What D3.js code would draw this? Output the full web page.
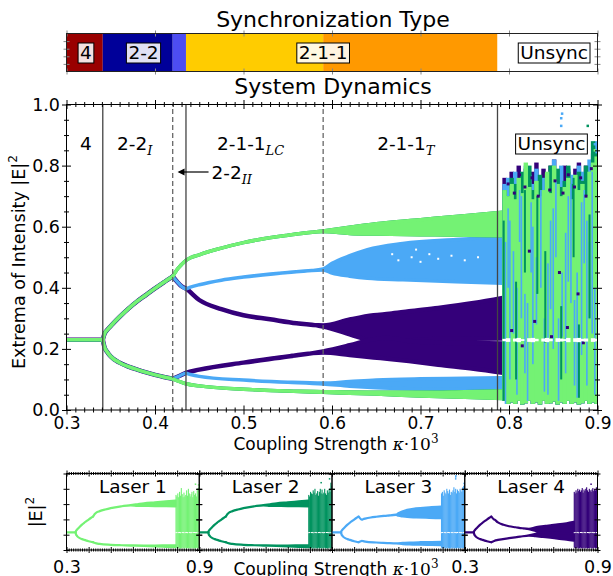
<!DOCTYPE html>
<html>
<head>
<meta charset="utf-8">
<script src="https://cdn.jsdelivr.net/npm/d3@7/dist/d3.min.js"></script>
<style>
  body { margin: 0; background: #fff; }
  svg { font-family: "DejaVu Sans", sans-serif; }
</style>
</head>
<body>
<svg id="chart" width="613" height="576"></svg>
<script>
// ---- data ----
const laserNames = ["Laser 1", "Laser 2", "Laser 3", "Laser 4"];

// synchronization type bar
const syncStart = [0.300, 0.341, 0.420, 0.435, 0.590, 0.787];
const syncEnd   = [0.341, 0.420, 0.435, 0.590, 0.787, 0.900];
const syncLabels = ["4", "2-2", "2-1-1", "Unsync"];
const syncLabelK = [0.322, 0.387, 0.590, 0.851];

// region borders in the dynamics panel
const solidBounds = [0.341, 0.435, 0.787];
const dashedBounds = [0.420, 0.590];

// steady state (all lasers)
const kPre = [0.300, 0.341];
const vPre = [0.230, 0.230];

// 2-2 period one branches (all lasers)
const k22 = [0.341, 0.343, 0.346, 0.350, 0.360, 0.370, 0.380, 0.390, 0.400, 0.410, 0.420];
const v22Up = [0.230, 0.250, 0.262, 0.275, 0.305, 0.332, 0.356, 0.377, 0.398, 0.418, 0.437];
const v22Low = [0.230, 0.205, 0.190, 0.175, 0.155, 0.142, 0.132, 0.123, 0.115, 0.108, 0.102];

// lasers 1 and 2 (green)
const kGreenUp = [0.420, 0.425, 0.430, 0.435, 0.450, 0.475, 0.500, 0.550, 0.590, 0.620, 0.650, 0.700, 0.750, 0.793];
const greenUpHi = [0.437, 0.460, 0.476, 0.490, 0.508, 0.530, 0.548, 0.572, 0.586, 0.598, 0.610, 0.623, 0.636, 0.647];
const greenUpLo = [0.437, 0.460, 0.476, 0.490, 0.508, 0.530, 0.548, 0.572, 0.584, 0.578, 0.576, 0.574, 0.572, 0.570];
const kGreenLow = [0.420, 0.435, 0.450, 0.500, 0.550, 0.590, 0.650, 0.700, 0.750, 0.793];
const greenLowHi = [0.102, 0.086, 0.079, 0.068, 0.062, 0.060, 0.058, 0.058, 0.060, 0.062];
const greenLowLo = [0.102, 0.086, 0.079, 0.068, 0.062, 0.058, 0.052, 0.046, 0.042, 0.038];

// laser 3 (blue)
const kBlueUp = [0.420, 0.425, 0.430, 0.435, 0.440, 0.450, 0.475, 0.500, 0.550, 0.590, 0.600, 0.620, 0.640, 0.680, 0.740, 0.793];
const blueUpHi = [0.437, 0.420, 0.405, 0.397, 0.402, 0.410, 0.425, 0.435, 0.450, 0.462, 0.480, 0.505, 0.525, 0.545, 0.558, 0.566];
const blueUpLo = [0.437, 0.420, 0.405, 0.397, 0.402, 0.410, 0.425, 0.435, 0.450, 0.458, 0.448, 0.438, 0.431, 0.426, 0.420, 0.415];
const kBlueLow = [0.420, 0.428, 0.435, 0.440, 0.450, 0.500, 0.550, 0.590, 0.620, 0.650, 0.700, 0.750, 0.793];
const blueLowHi = [0.102, 0.112, 0.120, 0.116, 0.110, 0.098, 0.091, 0.088, 0.093, 0.098, 0.102, 0.104, 0.106];
const blueLowLo = [0.102, 0.112, 0.120, 0.116, 0.110, 0.098, 0.091, 0.085, 0.078, 0.073, 0.069, 0.066, 0.064];

// laser 4 (purple)
const kPurpleUp = [0.420, 0.425, 0.430, 0.435, 0.450, 0.475, 0.500, 0.530, 0.560, 0.590, 0.620, 0.647, 0.665, 0.687, 0.720, 0.760, 0.793];
const purpleUpHi = [0.437, 0.420, 0.405, 0.397, 0.360, 0.330, 0.310, 0.297, 0.284, 0.277, 0.296, 0.310, 0.315, 0.323, 0.334, 0.350, 0.367];
const purpleUpLo = [0.437, 0.420, 0.405, 0.397, 0.360, 0.330, 0.310, 0.297, 0.284, 0.273, 0.248, 0.224, 0.215, 0.227, 0.232, 0.233, 0.234];
const kPurpleLow = [0.420, 0.428, 0.435, 0.450, 0.500, 0.550, 0.590, 0.620, 0.647, 0.665, 0.687, 0.720, 0.760, 0.793];
const purpleLowHi = [0.102, 0.112, 0.122, 0.132, 0.155, 0.175, 0.192, 0.212, 0.232, 0.236, 0.226, 0.221, 0.219, 0.218];
const purpleLowLo = [0.102, 0.112, 0.122, 0.132, 0.155, 0.175, 0.188, 0.180, 0.172, 0.167, 0.160, 0.148, 0.135, 0.122];

// white specks inside the blue torus band
const blueHoleK = [0.668, 0.675, 0.690, 0.695, 0.700, 0.710, 0.720, 0.735, 0.750, 0.765];
const blueHoleV = [0.510, 0.490, 0.500, 0.525, 0.485, 0.510, 0.495, 0.505, 0.490, 0.500];

// unsynchronized (chaotic) region, sampled in narrow strips
const chaosK = [0.795, 0.799, 0.803, 0.807, 0.811, 0.815, 0.819, 0.823, 0.827, 0.831, 0.835, 0.839, 0.843, 0.847,
                0.851, 0.855, 0.859, 0.863, 0.867, 0.871, 0.875, 0.879, 0.883, 0.887, 0.891, 0.895, 0.899];
const chaosTop1 = [0.72, 0.70, 0.74, 0.69, 0.76, 0.71, 0.81, 0.73, 0.69, 0.75, 0.70, 0.72, 0.78, 0.71, 0.80, 0.74, 0.70, 0.73, 0.76, 0.69, 0.77, 0.72, 0.74, 0.70, 0.78, 0.81, 0.83];
const chaosTop2 = [0.72, 0.70, 0.76, 0.74, 0.73, 0.78, 0.75, 0.80, 0.72, 0.74, 0.77, 0.71, 0.76, 0.80, 0.74, 0.79, 0.73, 0.75, 0.80, 0.74, 0.72, 0.78, 0.75, 0.80, 0.76, 0.88, 0.84];
const chaosTop3 = [0.74, 0.76, 0.71, 0.78, 0.75, 0.73, 0.80, 0.77, 0.74, 0.79, 0.72, 0.76, 0.75, 0.78, 0.82, 0.76, 0.80, 0.74, 0.79, 0.77, 0.75, 0.80, 0.78, 0.76, 0.82, 0.84, 0.88];
const chaosTop4 = [0.76, 0.74, 0.78, 0.75, 0.80, 0.77, 0.79, 0.76, 0.78, 0.81, 0.75, 0.79, 0.77, 0.80, 0.82, 0.78, 0.76, 0.80, 0.78, 0.76, 0.79, 0.81, 0.77, 0.80, 0.78, 0.82, 0.80];
const chaosBottom = [0.03, 0.02, 0.025, 0.02, 0.03, 0.018, 0.022, 0.03, 0.02, 0.025, 0.018, 0.03, 0.02, 0.022, 0.028, 0.018, 0.025, 0.02, 0.03, 0.02, 0.025, 0.018, 0.022, 0.03, 0.02, 0.025, 0.02];
const chaosGap = [0.004, 0.006, 0, 0.005, 0.007, 0.003, 0, 0.006, 0.007, 0.004, 0, 0.005, 0.007, 0.004, 0, 0.006, 0.005, 0.003, 0.007, 0, 0.006, 0.007, 0.004, 0.005, 0, 0.006, 0.004];
const chaosGapCenter = 0.229;

// streaks of single lasers that show through in the overlay
const blueStreakK = [0.796, 0.799, 0.801, 0.805, 0.809, 0.812, 0.814, 0.818, 0.821, 0.825, 0.827, 0.831, 0.836, 0.840, 0.844, 0.847,
                     0.850, 0.853, 0.856, 0.860, 0.864, 0.867, 0.870, 0.874, 0.877, 0.882, 0.885, 0.888, 0.891, 0.894, 0.897];
const blueStreakLo = [0.02, 0.40, 0.10, 0.25, 0.05, 0.55, 0.30, 0.12, 0.03, 0.45, 0.15, 0.28, 0.40, 0.06, 0.05, 0.33,
                      0.20, 0.50, 0.03, 0.24, 0.12, 0.42, 0.35, 0.08, 0.04, 0.18, 0.48, 0.08, 0.30, 0.25, 0.05];
const blueStreakHi = [0.55, 0.66, 0.62, 0.52, 0.40, 0.72, 0.70, 0.38, 0.35, 0.68, 0.60, 0.50, 0.72, 0.30, 0.48, 0.62,
                      0.66, 0.75, 0.30, 0.45, 0.58, 0.70, 0.74, 0.36, 0.45, 0.68, 0.72, 0.62, 0.55, 0.78, 0.40];
const dkGreenStreakK = [0.794, 0.808, 0.818, 0.832, 0.841, 0.859, 0.873, 0.879, 0.891];
const dkGreenStreakLo = [0.03, 0.10, 0.45, 0.38, 0.22, 0.10, 0.50, 0.04, 0.30];
const dkGreenStreakHi = [0.62, 0.42, 0.72, 0.70, 0.52, 0.34, 0.76, 0.28, 0.64];
const purpleDotK = [0.799, 0.806, 0.812, 0.818, 0.826, 0.833, 0.839, 0.846, 0.852, 0.861, 0.867, 0.874, 0.881, 0.887, 0.893,
                    0.803, 0.815, 0.829, 0.848, 0.866, 0.884, 0.823, 0.857, 0.878];
const purpleDotV = [0.74, 0.71, 0.77, 0.73, 0.76, 0.70, 0.78, 0.72, 0.75, 0.71, 0.77, 0.73, 0.76, 0.70, 0.79,
                    0.26, 0.21, 0.29, 0.24, 0.27, 0.22, 0.52, 0.45, 0.38];

// isolated high points
const outlierK = [[0.883, 0.897], [0.851, 0.889], [0.859, 0.859, 0.860, 0.897], [0.871]];
const outlierV = [[0.86, 0.85], [0.88, 0.93], [0.93, 0.955, 0.97, 0.87], [0.86]];

// ticks
const xMajor = [0.3, 0.4, 0.5, 0.6, 0.7, 0.8, 0.9];
const yMajor = [0.0, 0.2, 0.4, 0.6, 0.8, 1.0];

// ---- styles ----
const laserColors = ["#74f274", "#00935f", "#4ba9f6", "#34007a"];
const syncColors = ["#990000", "#000099", "#4d4df2", "#ffcc00", "#ff9900", "#ffffff"];
const mathFont = "DejaVu Serif";

function band(k, lo, hi) {
  return k.map((kk, i) => ({k: kk, lo: lo[i], hi: hi[i]}));
}

const common = [band(kPre, vPre, vPre), band(k22, v22Up, v22Up), band(k22, v22Low, v22Low)];
const greenBands = [band(kGreenUp, greenUpLo, greenUpHi), band(kGreenLow, greenLowLo, greenLowHi)];
const laserBands = [
  common.concat(greenBands),
  common.concat(greenBands),
  common.concat([band(kBlueUp, blueUpLo, blueUpHi), band(kBlueLow, blueLowLo, blueLowHi)]),
  common.concat([band(kPurpleUp, purpleUpLo, purpleUpHi), band(kPurpleLow, purpleLowLo, purpleLowHi)])
];
const chaosTop = [chaosTop1, chaosTop2, chaosTop3, chaosTop4];

const svg = d3.select("#chart");

// ---- helpers ----
function drawBands(g, xs, ys, i, sw) {
  let area = d3.area()
    .x(d => xs(d.k))
    .y0(d => ys(d.lo))
    .y1(d => ys(d.hi))
    .curve(d3.curveMonotoneX);
  g.selectAll(null)
    .data(laserBands[i])
    .enter()
    .append("path")
    .attr("d", area)
    .attr("fill", laserColors[i])
    .attr("stroke", laserColors[i])
    .attr("stroke-width", sw)
    .attr("stroke-linejoin", "round");
}

function drawChaos(g, xs, ys, i, half) {
  g.selectAll(null)
    .data(chaosK)
    .enter()
    .append("rect")
    .attr("x", d => xs(d - half))
    .attr("width", d => xs(d + half) - xs(d - half))
    .attr("y", (d, j) => ys(chaosTop[i][j]))
    .attr("height", (d, j) => ys(chaosBottom[j]) - ys(chaosTop[i][j]))
    .attr("fill", laserColors[i]);
}

function drawGaps(g, xs, ys, half, minH) {
  let gaps = chaosK.map((k, j) => ({k: k, gap: chaosGap[j]})).filter(d => d.gap > 0);
  g.selectAll(null)
    .data(gaps)
    .enter()
    .append("rect")
    .attr("x", d => xs(d.k - half))
    .attr("width", d => xs(d.k + half) - xs(d.k - half))
    .attr("y", d => ys(chaosGapCenter + d.gap))
    .attr("height", d => Math.max(minH, ys(chaosGapCenter - d.gap) - ys(chaosGapCenter + d.gap)))
    .attr("fill", "#fff");
}

function drawOutliers(g, xs, ys, i, s) {
  g.selectAll(null)
    .data(outlierK[i])
    .enter()
    .append("rect")
    .attr("x", d => xs(d) - s / 2)
    .attr("y", (d, j) => ys(outlierV[i][j]) - s / 2)
    .attr("width", s)
    .attr("height", s)
    .attr("fill", laserColors[i]);
}

// ticks crossing the frame line (matplotlib "inout")
function inout(axisG, dim) {
  axisG.selectAll(".tick line")
    .attr(dim + "1", function() { return -(+d3.select(this).attr(dim + "2")); });
}

function frameTicks(g, xs, ys, xMinor, yMinor, majLen, minLen, color) {
  let x0 = xs.range()[0], x1 = xs.range()[1];
  let y0 = ys.range()[0], y1 = ys.range()[1];
  let defs = [
    [d3.axisBottom(xs), "translate(0," + y0 + ")", "y"],
    [d3.axisTop(xs), "translate(0," + y1 + ")", "y"],
    [d3.axisLeft(ys), "translate(" + x0 + ",0)", "x"],
    [d3.axisRight(ys), "translate(" + x1 + ",0)", "x"]
  ];
  defs.forEach(function(def, n) {
    let horiz = n < 2;
    let sets = [[horiz ? xMinor : yMinor, minLen], [horiz ? xMajor : yMajor, majLen]];
    sets.forEach(function(s) {
      if (!s[0] || !s[0].length) return;
      let ax = g.append("g")
        .attr("transform", def[1])
        .call(def[0].tickValues(s[0]).tickFormat("").tickSize(s[1]).tickSizeOuter(0));
      ax.select(".domain").remove();
      ax.selectAll(".tick line").attr("stroke", color);
      inout(ax, def[2]);
    });
  });
  g.append("rect")
    .attr("x", x0).attr("y", y1)
    .attr("width", x1 - x0).attr("height", y0 - y1)
    .attr("fill", "none").attr("stroke", "#000").attr("stroke-width", 1);
}

function boxedText(g, xp, yp, txt, size, fill, fillOpacity) {
  let box = g.append("rect");
  let t = g.append("text")
    .attr("x", xp).attr("y", yp)
    .attr("text-anchor", "middle")
    .attr("font-size", size)
    .text(txt);
  let bb = t.node().getBBox();
  box.attr("x", bb.x - 2).attr("y", bb.y + 1)
    .attr("width", bb.width + 4).attr("height", bb.height - 1)
    .attr("fill", fill).attr("fill-opacity", fillOpacity)
    .attr("stroke", "#000").attr("stroke-width", 1);
}

function subLabel(g, xp, yp, main, sub, anchor) {
  let t = g.append("text")
    .attr("x", xp).attr("y", yp)
    .attr("font-size", 18.5)
    .attr("text-anchor", anchor || "start");
  t.append("tspan").text(main);
  if (sub) {
    t.append("tspan")
      .attr("dy", 5)
      .attr("font-family", mathFont)
      .attr("font-style", "italic")
      .attr("font-size", 13)
      .text(sub);
  }
  return t;
}

// ---- scales ----
const x = d3.scaleLinear().domain([0.3, 0.9]).range([66.5, 597.5]);
const y = d3.scaleLinear().domain([0, 1]).range([410, 104.5]);
const xMinor = d3.range(30, 91).map(v => v / 100).filter(v => Math.round(v * 100) % 10 !== 0);
const yMinor = d3.range(0, 21).map(v => v / 20).filter(v => Math.round(v * 20) % 4 !== 0);

// ---- synchronization type bar ----
const barTop = 33.5, barBottom = 71.5;
svg.append("text")
  .attr("x", 333).attr("y", 27)
  .attr("text-anchor", "middle")
  .attr("font-size", 22)
  .text("Synchronization Type");

let bar = svg.append("g");
bar.selectAll("rect")
  .data(syncStart)
  .enter()
  .append("rect")
  .attr("x", d => x(d))
  .attr("y", barTop)
  .attr("width", (d, i) => x(syncEnd[i]) - x(d))
  .attr("height", barBottom - barTop)
  .attr("fill", (d, i) => syncColors[i]);

let barTicks = bar.append("g");
let yBar = d3.scaleLinear().domain([0, 1]).range([barBottom, barTop]);
frameTicks(barTicks, x, yBar, [], [], 3, 0, "#888");
barTicks.selectAll(".tick").filter(d => d === 0 || d === 1).remove();
barTicks.select("rect").attr("stroke", "#222");

syncLabels.forEach(function(lab, i) {
  boxedText(bar, x(syncLabelK[i]), 59, lab, 18.5, "#fff", lab === "Unsync" ? 1 : 0.88);
});

// ---- system dynamics ----
svg.append("text")
  .attr("x", 333).attr("y", 94)
  .attr("text-anchor", "middle")
  .attr("font-size", 22)
  .text("System Dynamics");

svg.append("clipPath").attr("id", "mainClip")
  .append("rect")
  .attr("x", x(0.3)).attr("y", y(1))
  .attr("width", x(0.9) - x(0.3)).attr("height", y(0) - y(1));

let plot = svg.append("g").attr("clip-path", "url(#mainClip)");

// lasers 4, 3, 2, 1 so laser 1 ends up on top
[3, 2, 1, 0].forEach(function(i) {
  drawBands(plot, x, y, i, i === 3 ? 4.5 : 3.5);
});
[3, 2, 1, 0].forEach(function(i) {
  drawChaos(plot, x, y, i, 0.0025);
});

plot.selectAll(null)
  .data(blueStreakK)
  .enter()
  .append("rect")
  .attr("x", d => x(d) - 0.8)
  .attr("width", 1.6)
  .attr("y", (d, j) => y(blueStreakHi[j]))
  .attr("height", (d, j) => y(blueStreakLo[j]) - y(blueStreakHi[j]))
  .attr("fill", laserColors[2]);

plot.selectAll(null)
  .data(dkGreenStreakK)
  .enter()
  .append("rect")
  .attr("x", d => x(d) - 1)
  .attr("width", 2)
  .attr("y", (d, j) => y(dkGreenStreakHi[j]))
  .attr("height", (d, j) => y(dkGreenStreakLo[j]) - y(dkGreenStreakHi[j]))
  .attr("fill", laserColors[1]);

plot.selectAll(null)
  .data(purpleDotK)
  .enter()
  .append("rect")
  .attr("x", d => x(d) - 1.5)
  .attr("y", (d, j) => y(purpleDotV[j]) - 1.5)
  .attr("width", 3)
  .attr("height", 3)
  .attr("fill", laserColors[3]);

drawGaps(plot, x, y, 0.0025, 1.5);
[0, 1, 2, 3].forEach(i => drawOutliers(plot, x, y, i, 2.5));

plot.selectAll(null)
  .data(blueHoleK)
  .enter()
  .append("rect")
  .attr("x", d => x(d) - 1)
  .attr("y", (d, j) => y(blueHoleV[j]) - 1)
  .attr("width", 2)
  .attr("height", 2)
  .attr("fill", "#fff");

// region borders
plot.selectAll(null)
  .data(solidBounds)
  .enter()
  .append("line")
  .attr("x1", d => x(d)).attr("x2", d => x(d))
  .attr("y1", y(0)).attr("y2", y(1))
  .attr("stroke", "#444")
  .attr("stroke-width", 1.3);

plot.selectAll(null)
  .data(dashedBounds)
  .enter()
  .append("line")
  .attr("x1", d => x(d)).attr("x2", d => x(d))
  .attr("y1", y(0)).attr("y2", y(1))
  .attr("stroke", "#666")
  .attr("stroke-width", 1.3)
  .attr("stroke-dasharray", "5,3");

// region names
let labels = svg.append("g");
subLabel(labels, x(0.322), 150, "4", "", "middle");
subLabel(labels, x(0.357), 150, "2-2", "I");
subLabel(labels, x(0.470), 150, "2-1-1", "LC");
subLabel(labels, x(0.651), 150, "2-1-1", "T");
boxedText(labels, x(0.848), 150, "Unsync", 18.5, "#fff", 1);

subLabel(labels, x(0.4638), 179, "2-2", "II");
labels.append("line")
  .attr("x1", x(0.4605)).attr("x2", x(0.4275))
  .attr("y1", 172).attr("y2", 172)
  .attr("stroke", "#000").attr("stroke-width", 1.2);
labels.append("path")
  .attr("d", "M" + x(0.4255) + ",172 l7,-3.5 l0,7 z")
  .attr("fill", "#000");

// axes
let axes = svg.append("g");
frameTicks(axes, x, y, xMinor, yMinor, 4.5, 2.5, "#000");

axes.append("g")
  .attr("transform", "translate(0," + y(0) + ")")
  .call(d3.axisBottom(x).tickValues(xMajor).tickFormat(d3.format(".1f")).tickSize(4.5).tickPadding(2))
  .call(g => g.select(".domain").remove())
  .call(g => g.selectAll(".tick line").remove())
  .selectAll("text")
  .attr("font-size", 17)
  .attr("font-family", "DejaVu Sans");

axes.append("g")
  .attr("transform", "translate(" + x(0.3) + ",0)")
  .call(d3.axisLeft(y).tickValues(yMajor).tickFormat(d3.format(".1f")).tickSize(4.5).tickPadding(2))
  .call(g => g.select(".domain").remove())
  .call(g => g.selectAll(".tick line").remove())
  .selectAll("text")
  .attr("font-size", 17.5)
  .attr("font-family", "DejaVu Sans");

function kappaLabel(g, xp, yp) {
  let t = g.append("text")
    .attr("x", xp).attr("y", yp)
    .attr("text-anchor", "middle")
    .attr("font-size", 17);
  t.append("tspan").text("Coupling Strength ");
  t.append("tspan").attr("font-family", mathFont).attr("font-style", "italic").text("\u03ba");
  t.append("tspan").attr("font-family", mathFont).text("\u00b710");
  t.append("tspan").attr("font-family", mathFont).attr("font-size", 12).attr("dy", -7).text("3");
}

function intensityLabel(g, xp, yp, txt, size) {
  let t = g.append("text")
    .attr("transform", "translate(" + xp + "," + yp + ") rotate(-90)")
    .attr("text-anchor", "middle")
    .attr("font-size", size);
  t.append("tspan").text(txt);
  t.append("tspan").attr("font-size", size * 0.7).attr("dy", -8).text("2");
}

kappaLabel(svg, 336, 450);
intensityLabel(svg, 25, 262, "Extrema of Intensity |E|", 17.5);

// ---- single laser panels ----
const panelLeft = 66.5, panelW = 132.75, panelTop = 473.5, panelBottom = 550;
const panelMinorX = d3.range(30, 91).map(v => v / 100).filter(v => Math.round(v * 100) % 10 !== 0);

laserNames.forEach(function(name, i) {
  let x0 = panelLeft + i * panelW;
  let px = d3.scaleLinear().domain([0.3, 0.9]).range([x0, x0 + panelW]);
  let py = d3.scaleLinear().domain([0, 1]).range([panelBottom, panelTop]);

  svg.append("clipPath").attr("id", "panelClip" + i)
    .append("rect")
    .attr("x", x0).attr("y", panelTop)
    .attr("width", panelW).attr("height", panelBottom - panelTop);

  let pg = svg.append("g").attr("clip-path", "url(#panelClip" + i + ")");
  drawBands(pg, px, py, i, 2.2);
  drawChaos(pg, px, py, i, 0.0025);
  drawGaps(pg, px, py, 0.0025, 1);
  drawOutliers(pg, px, py, i, 1.5);

  let fg = svg.append("g");
  frameTicks(fg, px, py, panelMinorX, [], 3, 1.5, "#000");

  fg.append("text")
    .attr("x", x0 + panelW / 2).attr("y", 493)
    .attr("text-anchor", "middle")
    .attr("font-size", 18.5)
    .text(name);

  if (i === 0 || i === 3) {
    fg.append("g")
      .attr("transform", "translate(0," + panelBottom + ")")
      .call(d3.axisBottom(px).tickValues([0.3, 0.9]).tickFormat(d3.format(".1f")).tickSize(3).tickPadding(8))
      .call(g => g.select(".domain").remove())
      .call(g => g.selectAll(".tick line").remove())
      .selectAll("text")
      .attr("font-size", 17.5)
      .attr("font-family", "DejaVu Sans");
  }
});

kappaLabel(svg, 336, 575);
intensityLabel(svg, 42, 512, "|E|", 17.5);
</script>
</body>
</html>
